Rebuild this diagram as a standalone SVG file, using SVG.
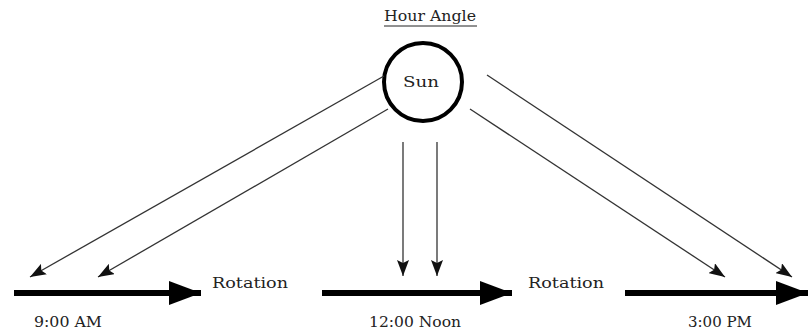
<svg xmlns="http://www.w3.org/2000/svg" width="808" height="331" viewBox="0 0 808 331">
<defs>
<marker id="thin" markerWidth="16" markerHeight="12" refX="16" refY="6" orient="auto" markerUnits="userSpaceOnUse">
<path d="M0,0 L16,6 L0,12 L3,6 Z" fill="#111"/>
</marker>
<marker id="thick" markerWidth="32" markerHeight="24" refX="32" refY="12" orient="auto" markerUnits="userSpaceOnUse">
<path d="M0,0 L32,12 L0,24 Z" fill="#000"/>
</marker>
</defs>
<style>
.lbl{font-family:"DejaVu Serif","Liberation Serif",serif;font-size:14px;fill:#222;text-anchor:middle}
.ray{stroke:#333;stroke-width:1.3;fill:none;marker-end:url(#thin)}
.rot{stroke:#000;stroke-width:6;fill:none;marker-end:url(#thick)}
</style>
<rect width="808" height="331" fill="#fff"/>
<g id="title">
<text class="lbl" x="430" y="21" textLength="92" lengthAdjust="spacingAndGlyphs">Hour Angle</text>
<line x1="384" y1="26" x2="477" y2="26" stroke="#222" stroke-width="1"/>
</g>
<g id="sun">
<circle cx="423" cy="82" r="39" fill="none" stroke="#000" stroke-width="4"/>
<text class="lbl" x="421" y="87" textLength="36" lengthAdjust="spacingAndGlyphs">Sun</text>
</g>
<g id="connectors">
<line class="ray" x1="384" y1="76" x2="30" y2="277"/>
<line class="ray" x1="388" y1="109" x2="98" y2="277"/>
<line class="ray" x1="403" y1="142" x2="403" y2="276"/>
<line class="ray" x1="437" y1="142" x2="437" y2="276"/>
<line class="ray" x1="470" y1="109" x2="725" y2="277"/>
<line class="ray" x1="487" y1="75" x2="792" y2="277"/>
<line class="rot" x1="14" y1="293" x2="201" y2="293"/>
<line class="rot" x1="322" y1="293" x2="512" y2="293"/>
<line class="rot" x1="625" y1="293" x2="808" y2="293"/>
</g>
<g id="rotation1"><text class="lbl" x="250" y="288" textLength="76" lengthAdjust="spacingAndGlyphs">Rotation</text></g>
<g id="rotation2"><text class="lbl" x="566" y="288" textLength="76" lengthAdjust="spacingAndGlyphs">Rotation</text></g>
<g id="t900"><text class="lbl" x="68" y="327" textLength="68" lengthAdjust="spacingAndGlyphs">9:00 AM</text></g>
<g id="t1200"><text class="lbl" x="415" y="327" textLength="92" lengthAdjust="spacingAndGlyphs">12:00 Noon</text></g>
<g id="t300"><text class="lbl" x="720" y="327" textLength="64" lengthAdjust="spacingAndGlyphs">3:00 PM</text></g>
</svg>
